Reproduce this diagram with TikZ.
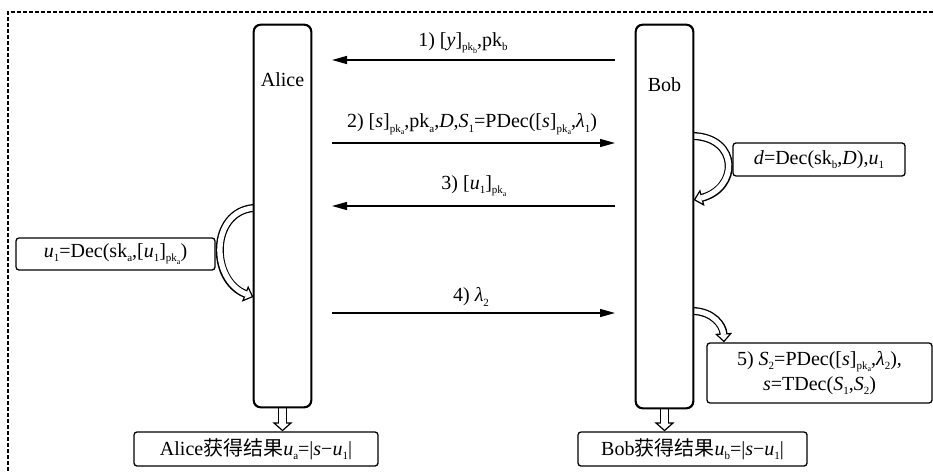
\documentclass[tikz,border=0pt]{standalone}
\usepackage{fontspec}
\setmainfont{Liberation Serif}
\newfontfamily\cjk{Noto Sans CJK SC}
\usetikzlibrary{arrows.meta}
\newcommand\sbs[1]{\raisebox{-0.22em}{\fontsize{11}{11}\selectfont #1}}
\newcommand\ssbs[1]{\raisebox{-0.2em}{\fontsize{8}{8}\selectfont #1}}
\newcommand\hollowpath[4]{%
  \draw[line width=#1,-{Triangle[open,fill=white,length=9pt,width=#3,line width=1.2pt]}] #4;
  \draw[line width=#2,white,shorten >=7.5pt] #4;}
\begin{document}
\begin{tikzpicture}[x=1pt,y=-1pt,
  every node/.style={font=\fontsize{20}{24}\selectfont, inner sep=0pt},
  lane/.style={draw, line width=1.3pt, rounded corners=7pt, minimum width=57pt},
  infobox/.style={draw, line width=1.3pt, rounded corners=3pt, align=center},
  msg/.style={line width=1.3pt, -{Triangle[length=15pt,width=8pt]}},
  frame/.style={line width=1.2pt, dash pattern=on 4pt off 2pt}]
\useasboundingbox (0,0) rectangle (933,471);
\draw[frame] (8,471) -- (8,12) -- (933,12);

% named coordinates for message ends
\coordinate (m1s) at (615,60);  \coordinate (m1e) at (332,60);
\coordinate (m2s) at (332,143); \coordinate (m2e) at (615,143);
\coordinate (m3s) at (615,206); \coordinate (m3e) at (332,206);
\coordinate (m4s) at (332,313); \coordinate (m4e) at (615,313);

% boxes (positions)
\node[lane, minimum height=382pt] (alice) at (282.5,216) {};
\node[lane, minimum height=383pt] (bob) at (664.5,216.5) {};
\node (alicelbl) at (282.5,80) {Alice};
\node (boblbl) at (664.5,85) {Bob};

\node[infobox, minimum width=172pt, minimum height=33pt] (dbox) at (819,159.5)
  {\textit{d}=Dec(sk\sbs{b},\textit{D}),\textit{u}\sbs{1}};
\node[infobox, minimum width=199pt, minimum height=32pt] (ubox) at (115.5,254)
  {\textit{u}\sbs{1}=Dec(sk\sbs{a},[\textit{u}\sbs{1}]\sbs{pk\ssbs{a}})};
\node[infobox, minimum width=225pt, minimum height=60pt] (sbox) at (819.5,373)
  {5) \textit{S}\sbs{2}=PDec([\textit{s}]\sbs{pk\ssbs{a}},\textit{λ}\sbs{2}),\\[1pt]
   \textit{s}=TDec(\textit{S}\sbs{1},\textit{S}\sbs{2})};
\node[infobox, minimum width=244pt, minimum height=34pt] (ares) at (256,449)
  {Alice{\cjk 获得结果}\textit{u}\sbs{a}=|\textit{s}−\textit{u}\sbs{1}|};
\node[infobox, minimum width=229pt, minimum height=34pt] (bres) at (692.5,449)
  {Bob{\cjk 获得结果}\textit{u}\sbs{b}=|\textit{s}−\textit{u}\sbs{1}|};

% messages
\draw[msg] (m1s) -- (m1e);
\draw[msg] (m2s) -- (m2e);
\draw[msg] (m3s) -- (m3e);
\draw[msg] (m4s) -- (m4e);
\node (l1) at (463,43) {1) [\textit{y}]\sbs{pk\ssbs{b}},pk\sbs{b}};
\node (l2) at (472,124) {2) [\textit{s}]\sbs{pk\ssbs{a}},pk\sbs{a},\textit{D},\textit{S}\sbs{1}=PDec([\textit{s}]\sbs{pk\ssbs{a}},\textit{λ}\sbs{1})};
\node (l3) at (474,186) {3) [\textit{u}\sbs{1}]\sbs{pk\ssbs{a}}};
\node (l4) at (471,297) {4) \textit{λ}\sbs{2}};

% hollow arrows
\hollowpath{8pt}{5.4pt}{17pt}{(alice.west |- 0,208) .. controls (210,212) and (210,280) .. (alice.west |- 0,297)}
\hollowpath{8pt}{5.4pt}{17pt}{(bob.east |- 0,136) .. controls (739,138) and (739,188) .. (bob.east |- 0,200)}
\hollowpath{8pt}{5.4pt}{17pt}{(bob.east |- 0,311) .. controls (713,312) and (723,325) .. (sbox.north -| 724,0)}
\hollowpath{9pt}{6.6pt}{20pt}{(alice.south) -- (ares.north -| alice.south)}
\hollowpath{9pt}{6.6pt}{20pt}{(bob.south) -- (bres.north -| bob.south)}

% redraw lane borders over arrow starts
\draw[line width=1.3pt, rounded corners=7pt] (alice.south west) rectangle (alice.north east);
\draw[line width=1.3pt, rounded corners=7pt] (bob.south west) rectangle (bob.north east);
\end{tikzpicture}
\end{document}
